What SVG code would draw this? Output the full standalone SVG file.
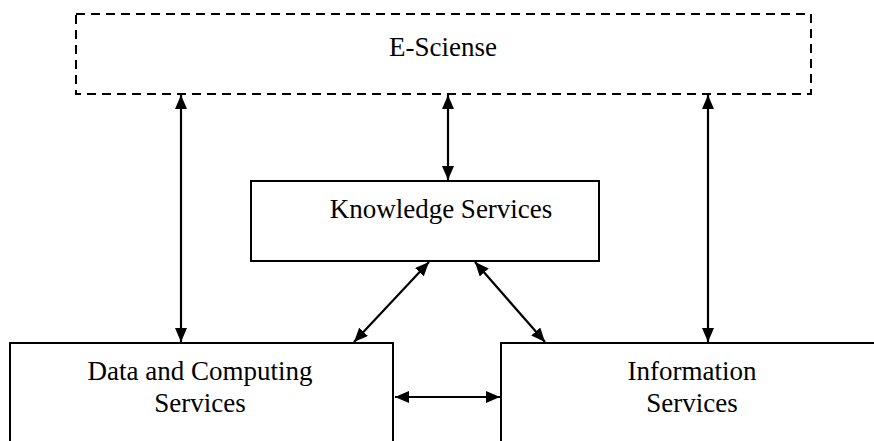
<svg xmlns="http://www.w3.org/2000/svg" width="874" height="441" viewBox="0 0 874 441">
<style>
.box{fill:#fff;stroke:#000;stroke-width:2}
.dash{fill:#fff;stroke:#000;stroke-width:2;stroke-dasharray:9,6}
text{font-family:"Liberation Serif","Times New Roman","DejaVu Serif",serif;font-size:27px;fill:#000;text-anchor:middle}
.c{stroke:#000;stroke-width:2.2;fill:none;marker-start:url(#ah);marker-end:url(#ah)}
</style>
<defs>
<marker id="ah" viewBox="0 0 14 12" refX="14" refY="6" markerWidth="14" markerHeight="12" markerUnits="userSpaceOnUse" orient="auto-start-reverse">
<path d="M0,0 L14,6 L0,12 z" fill="#000"/>
</marker>
</defs>
<g id="escience"><rect class="dash" x="76" y="14" width="735" height="80"/><text x="443" y="56">E-Sciense</text></g>
<g id="knowledge"><rect class="box" x="251" y="181" width="348" height="80"/><text x="441" y="218">Knowledge Services</text></g>
<g id="data"><rect class="box" x="10" y="343" width="383" height="110"/><text x="200" y="380">Data and Computing</text><text x="200" y="412">Services</text></g>
<g id="info"><rect class="box" x="501" y="343" width="383" height="110"/><text x="692" y="380">Information</text><text x="692" y="412">Services</text></g>
<g id="connectors">
<line class="c" x1="181" y1="95" x2="181" y2="342"/>
<line class="c" x1="448" y1="95" x2="448" y2="180"/>
<line class="c" x1="708" y1="95" x2="708" y2="342"/>
<line class="c" x1="429" y1="262" x2="354" y2="342"/>
<line class="c" x1="475" y1="262" x2="545" y2="342"/>
<line class="c" x1="395" y1="397" x2="500" y2="397"/>
</g>
</svg>
